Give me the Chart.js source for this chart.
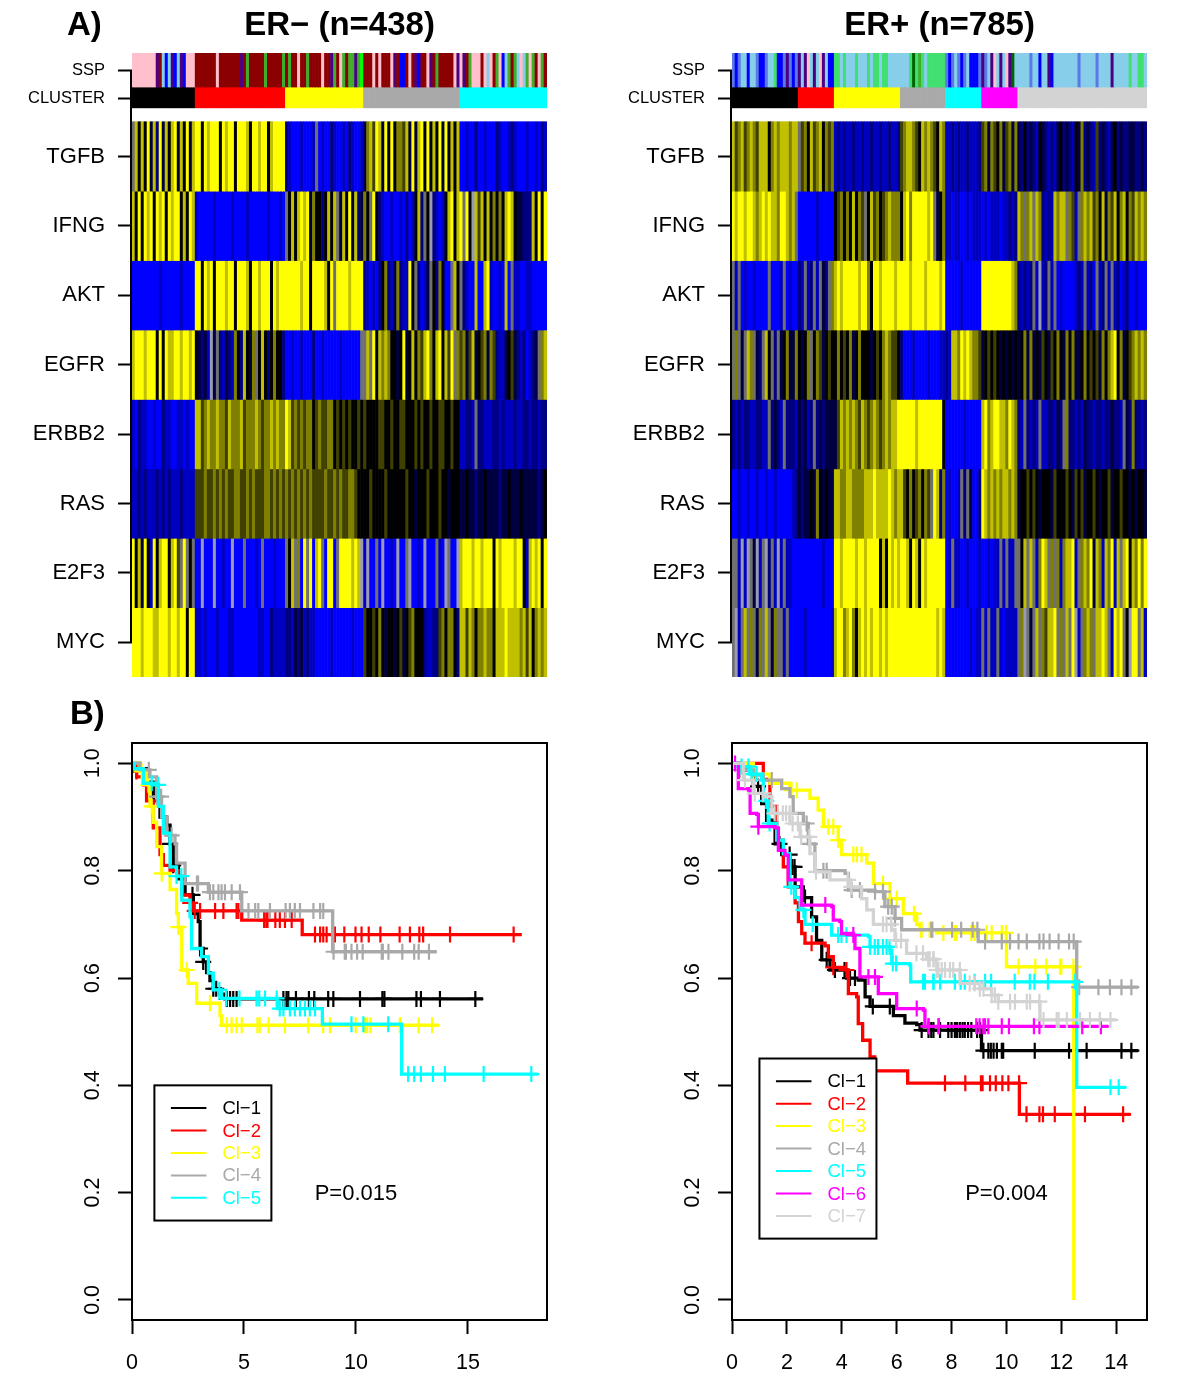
<!DOCTYPE html>
<html>
<head>
<meta charset="utf-8">
<title>ER- / ER+ pathway clusters</title>
<script src="https://cdn.jsdelivr.net/npm/chart.js@4"></script>
<style>
  html, body { margin: 0; background: #fff; }
  body { position: relative; width: 1200px; height: 1400px; overflow: hidden; }
  canvas { position: absolute; }
  .tag { position: absolute; z-index: 2; font: bold 33px/40px "Liberation Sans", sans-serif; }
</style>
</head>
<body>
<div class="tag" style="left:67px;top:4px">A)</div>
<div class="tag" style="left:70px;top:693px">B)</div>
<canvas id="heatNeg" width="600" height="700" style="left:0;top:0"></canvas>
<canvas id="heatPos" width="600" height="700" style="left:600px;top:0"></canvas>
<canvas id="kmNeg" width="600" height="710" style="left:0;top:690px"></canvas>
<canvas id="kmPos" width="600" height="710" style="left:600px;top:690px"></canvas>
<script>
// heatmap columns, left to right: 0 blue .. 4 black .. 8 yellow, g/w mixed stripes
const rowLabels = ['SSP', 'CLUSTER', 'TGFB', 'IFNG', 'AKT', 'EGFR', 'ERBB2', 'RAS', 'E2F3', 'MYC'];
const clusterColors = ['#000000', '#ff0000', '#ffff00', '#a9a9a9', '#00ffff', '#ff00ff', '#d3d3d3'];

const negClusterCols = [21, 30, 26, 32, 29];
const negSsp = 'PPPPP PPPVR SUSVU SVUPP P RRRRR RRPRR RRRRR VRGRR RRRGR RRRRG RGRRP RRGRR RRPRR VGRPG RGGVG H RRRPR PRRRP VRUUR PRVUR RPVRG RRRRR PV PVRGP PPRPS PRGPU SGRGS PSGPG RPGR';
const negTgfb = 'g7474 83728 37478 37483 7 88487 88848 78848 88748 87884 78888 21000 10001 g0100 21001 02100 1 36758 73848 46657 38378 48474 83847 47 00100 20010 00210 01210 00100 1021';
const negIfng = '74848 78487 84878 84748 7 10000 01000 00100 00100 00001 00010 g4747 87836 44247 47g37 48372 3 64g84 21001 00102 01472 g4w21 01 47847 8g84w 75747 46464 78743 3222';
const negAkt = '00000 00001 00000 01000 0 88487 84888 78848 88748 87888 48788 88888 78848 88874 8g888 87888 8 21010 24621 36211 84g20 13g42 64 00g74 g2100 70078 10010 70g11 0011';
const negEgfr = '78887 88848 48778 87887 8 43231 w3g21 32164 27436 g4742 46442 00100 10002 00100 00010 00000 g g7g84 76764 43483 47465 78647 84758 g6 56357 34563 65211 34532 12012 3g67';
const negErbb2 = '10211 00100 21100 11010 0 77567 66766 57666 75666 76566 76766 87565 65664 56556 64545 45445 4 54444 55445 44554 44545 44544 55445 44 11221 g2211 12212 11121 12212 2122';
const negRas = '11212 11121 21211 12111 1 55565 56565 65566 55656 55566 56565 65656 56565 55565 56565 56654 4 44544 44544 44445 44344 45444 54434 44 33433 23343 33323 34333 43333 3234';
const negE2f3 = '84738 41847 88478 5g8g4 g 00w00 0w001 00w00 0g000 10g00 01000 g47g6 08g80 78g08 80g88 88787 w 1w00g 0w001 0w00g w0010 w000g 10wg0 0w 78887 88788 84878 88878 84178 7848';
const negMyc = '88878 88778 88788 78848 8 11010 00100 01100 00000 01100 21111 22132 31211 00000 10000 00100 0 54454 64344 34534 56444 21122 56466 42 77576 46676 64777 87777 67574 6767';

const posClusterCols = [22, 12, 22, 15, 12, 12, 43];
const posSsp = 'CUCSS USSCU UCSSM UUCVC UC VSVPS VSPVS UU MMSMS SSMSS SMSMM SMMSS SS SSSMD MGMSM MMMMM CUCSC UCSUU UC VCSVP SVSPV DS SSSSC SSUSS VUSSS SSSSS CSSSS SCSSS SVSSS SSMSS MMS';
const posTgfb = '75675 67657 77467 67776 77 g5647 56746 56 12121 12112 11211 21121 12 56776 54767 65476 11212 11211 12 56365 46356 36 32423 21432 12134 23214 36232 15232 13423 22332 232';
const posIfng = '87887 88767 87877 68876 7g 00000 01000 00 45646 47465 g4756 45676 66 47868 88887 8g346 11011 00101 11 01011 10112 12 76g67 g7621 21767 7g651 g6767 56473 65746 74657 676';
const posAkt = 'g1g01 00100 00g00 01g01 00 21g12 g1g32 g6 78788 88878 86488 78888 78 88878 88878 88878 00000 10000 00 88888 88888 76 21212 g1w12 g1g01 00001 21g12 0g12g 1g120 12001 000';
const posEgfr = 'g6g3g 76g32 g74g2 g3463 36 4346g 46534 54 46454 63464 44345 46765 54 20001 00001 00011 21776 87876 65 34545 43434 34 34636 34354 35464 36463 34645 45364 67846 34567 676';
const posErbb2 = '21212 21122 11g23 21g22 21 32312 g2323 33 35767 67657 65676 56767 78 88888 78888 88884 00000 01000 00 78678 87768 76 21g21 21g11 22132 g6221 21322 12212 23221 g3262 212';
const posRas = '00100 10010 01001 00000 12 32334 36434 33 77667 76666 77787 77787 67 75464 56465 g8726 01001 g2g30 02 87676 76776 76 34454 54344 43544 45435 45344 54344 53445 44343 443';
const posE2f3 = 'gg1w1 wg3w1 gw2g1 w1g11 00 00000 00010 00 88788 88788 78888 47487 87 88748 74878 88888 01g11 00100 01 00101 1g1g1 1g g47g7 g1687 g6g61 67781 g6768 37617 6817g 78476 868';
const posMyc = 'gw1g7 g6g36 g7g36 gg1g0 00 00100 00000 01 78867 86478 78788 78788 88 88888 88888 88787 00000 00010 11 g1g11 g1011 11 g6wg3 g7g65 778g6 g7g8w 1g676 g7787 g1878 g4w88 g71';

// survival curves, Cl-n: times, survival, censoring times
const negT1 = [0,.36,.65,.95,1.25,1.55,1.7,1.84,2.07,2.37,2.74,2.96,3.04,3.18,3.33,3.48,3.63,3.93,4.15,15.67];
const negS1 = [1,.99,.965,.93,.90,.885,.85,.81,.785,.755,.72,.705,.655,.63,.61,.595,.58,.57,.561,.561];
const negC1 = [1.7,1.84,2.7,3.04,3.18,3.63,3.76,4.23,4.38,4.52,4.67,6.76,6.9,6.98,7.32,7.9,8.14,8.76,8.99,10.18,11.18,11.27,12.7,12.9,13.75,15.33];
const negT2 = [0,.21,.51,.65,.95,1.25,1.4,1.7,2.07,2.22,2.59,2.74,4.9,7.6,17.4];
const negS2 = [.985,.975,.96,.93,.88,.83,.81,.80,.79,.755,.74,.725,.708,.681,.681];
const negC2 = [.2,.5,2.6,2.8,3.04,3.71,4.08,4.67,4.75,5.9,6,6.05,6.4,6.6,6.83,7.13,8.17,8.4,8.54,8.69,9.06,9.48,9.98,10.25,10.57,11.09,11.95,12.41,12.83,13,14.2,17.04];
const negT3 = [0,.36,.65,.8,.95,1.1,1.32,1.7,1.99,2.07,2.22,2.51,2.89,3.48,3.93,4.0,13.7];
const negS3 = [1,.985,.96,.92,.89,.845,.795,.765,.72,.695,.615,.59,.553,.553,.53,.512,.512];
const negC3 = [.43,.73,.88,1.33,2.07,2.44,3.48,4.23,4.45,4.67,4.9,5.6,5.7,6.1,6.83,7.87,8.54,8.84,9.99,10.4,10.5,10.65,11.96,12.0,12.8,13.4];
const negT4 = [0,.36,.8,1.1,1.32,1.55,1.92,1.99,2.37,3.41,4.9,8.96,13.6];
const negS4 = [1,.988,.975,.938,.90,.866,.85,.814,.776,.76,.725,.649,.649];
const negC4 = [.75,1.1,1.3,1.77,2.9,2.95,3.48,3.63,3.86,4,4.15,4.45,4.82,5.2,5.5,5.64,6.16,6.86,7.05,7.27,7.5,8.1,8.4,8.54,9,9.5,9.55,9.8,10.05,10.3,11.15,11.2,11.45,12.07,12.6,12.8,13.26];
const negT5 = [0,.1,.51,.95,1.18,1.4,1.7,1.99,2.22,2.59,2.66,3.11,3.41,3.63,4.0,6.5,8.5,12.04,18.1];
const negS5 = [1,.99,.963,.96,.92,.87,.807,.79,.745,.714,.655,.64,.609,.578,.562,.543,.514,.421,.421];
const negC5 = [.88,1.17,1.99,2.2,3.9,4.2,4.8,5.56,5.68,5.94,6.46,6.6,6.76,7.05,7.27,7.5,7.72,7.94,8.17,9.8,10.33,11.44,12.33,12.6,12.9,13.44,13.97,15.7,17.83];

const posT1 = [0,.29,.78,1.08,1.26,1.57,1.81,2.11,2.3,2.6,2.9,3.08,3.27,3.57,4.18,4.6,4.85,5.03,5.88,6.3,6.73,6.85,9.09,14.8];
const posS1 = [1,.988,.957,.925,.894,.85,.83,.807,.77,.75,.714,.67,.634,.615,.60,.596,.565,.547,.53,.516,.513,.503,.4647,.4647];
const posC1 = [.95,1.73,2.1,2.2,2.28,2.6,2.66,3.45,3.75,4.1,4.3,4.48,5.13,5.75,6.91,7.16,7.26,7.34,7.58,7.88,8,8.12,8.2,8.3,8.4,8.48,8.6,8.72,8.93,9.04,9.16,9.34,9.43,9.53,9.65,9.83,9.88,11.03,12.28,12.92,14.19,14.55];
const posT2 = [0,.78,1.14,1.38,1.63,1.87,2.05,2.3,2.42,2.54,2.66,3.39,3.51,3.69,4.12,4.24,4.54,4.6,4.76,5.03,5.2,6.4,10.47,14.52];
const posS2 = [1,1,.97,.92,.857,.807,.77,.74,.705,.683,.665,.66,.64,.62,.615,.571,.565,.515,.484,.453,.4268,.404,.346,.346];
const posC2 = [2.9,3.69,4.17,7.76,8.5,9.07,9.13,9.4,9.61,9.85,10.07,10.46,10.73,11.2,11.33,11.76,12.86,14.25];
const posT3 = [0,.78,1.38,2.11,2.84,3.14,3.33,3.87,3.99,4.91,5.15,5.76,6.24,6.73,6.85,7.45,10,12.45];
const posS3 = [1,.98,.963,.95,.935,.913,.882,.857,.83,.814,.776,.748,.72,.70,.69,.684,.621,0];
const posC3 = [.78,.9,2.17,2.36,3.51,3.69,3.87,4.42,4.55,4.72,5.5,5.76,6,6.63,6.88,7.23,6.91,7.2,7.26,7.7,8.12,8.18,8.72,8.84,9.28,9.46,9.83,9.98,10.44,11.05,11.45,11.95,12,12.44];
const posT4 = [0,.29,.78,1.14,1.81,2.11,2.23,2.6,2.78,3.02,4.12,4.24,5.21,5.57,5.94,6.18,8.97,12.56,14.8];
const posS4 = [1,.988,.978,.969,.953,.938,.907,.888,.85,.80,.795,.764,.761,.733,.711,.69,.668,.583,.583];
const posC4 = [.29,1.14,1.45,2.72,2.84,3.33,3.45,4.36,4.66,5.21,5.5,5.69,5.82,5.94,7.26,7.3,8.02,8.35,8.77,8.94,9.22,9.83,10.13,10.44,10.74,11.2,11.35,11.57,11.9,12.28,12.45,12.65,13.35,13.77,14.19,14.55];
const posT5 = [0,.29,.66,1.08,1.14,1.32,1.63,1.87,2.11,2.3,2.48,2.66,3.57,3.63,4.97,5.03,5.76,5.82,6.48,6.51,12.56,14.35];
const posS5 = [1,.994,.98,.969,.93,.888,.857,.832,.77,.75,.727,.70,.70,.68,.677,.658,.652,.627,.624,.593,.3964,.3964];
const posC5 = [.35,.6,.71,.89,1.25,1.37,2.16,2.6,2.94,3.87,3.99,4.17,5.03,5.2,5.32,5.5,5.63,5.74,5.86,5.98,7.03,7.34,6.96,7.34,7.58,8.12,8.33,8.48,8.84,9.22,9.44,10.3,10.85,11.02,11.51,12.5,13.79,14.09];
const posT6 = [0,.11,.23,.6,.66,.9,.96,1.57,1.69,1.93,2.05,2.48,2.54,3.63,3.69,3.93,3.99,4.42,4.48,4.66,5.27,5.33,5.94,6.0,6.97,7.03,13.71];
const posS6 = [1,1,.953,.95,.907,.905,.882,.88,.838,.829,.783,.783,.736,.733,.708,.705,.683,.68,.655,.602,.602,.571,.571,.543,.54,.51,.51];
const posC6 = [.11,.96,3.4,4.42,4.97,5.21,6.73,7.16,7.52,7.16,7.54,8.9,9.02,9.16,9.22,9.34,9.83,10.09,11,11.2,12.76,13.44];
const posT7 = [0,.41,.78,1.14,1.45,2.11,2.48,2.84,3.02,3.57,4.3,4.72,4.91,5.15,5.82,5.94,6.36,7.09,7.46,8.31,9.03,9.46,9.7,11.22,14];
const posS7 = [1,.969,.944,.938,.907,.888,.863,.832,.798,.783,.77,.748,.727,.70,.69,.67,.646,.635,.615,.59,.58,.568,.556,.522,.522];
const posC7 = [.47,.83,1.13,1.55,1.67,1.85,1.97,2.1,2.21,2.4,2.52,2.82,3.06,4.23,4.35,5.5,5.63,5.8,5.98,6.16,6.72,6.96,7.15,7.34,7.52,7.2,7.34,7.46,7.64,7.76,7.94,8.06,8.3,8.66,8.84,9.03,9.16,9.46,9.58,9.7,10.13,10.31,10.74,10.86,11.2,11.35,11.83,11.9,12.2,12.68,13.04,13.4,13.79];

const negTimeTicks = [0, 5, 10, 15];
const posTimeTicks = [0, 2, 4, 6, 8, 10, 12, 14];
const survivalTicks = [0, 0.2, 0.4, 0.6, 0.8, 1];

Chart.defaults.font.family = '"Liberation Sans", sans-serif';
Chart.defaults.color = '#000';
Chart.defaults.animation = false;

const heatColors = { 0: '#0000ff', 1: '#0000c0', 2: '#000080', 3: '#000040', 4: '#000000', 5: '#404000', 6: '#808000', 7: '#c0c000', 8: '#ffff00', g: '#707070', w: '#9a9ab4' };
const sspColors = { P: '#ffc0cb', R: '#8b0000', U: '#0000ff', S: '#87ceeb', G: '#3fae2a', H: '#00ff00', V: '#4b0082', M: '#40e070', C: '#5a78e6', D: '#006400' };

function drawHeat(id, title, ssp, clusterCols, rows) {
    const cols = ssp.replace(/ /g, '').split('');
    const clusterRow = clusterCols.flatMap((n, i) => Array(n).fill(clusterColors[i]));
    // rows stack downward from 0 at the top of the scale: ssp, cluster, gap, then one unit per pathway
    const band = (from, to, colors) => ({
        data: cols.map(() => [from, to]),
        backgroundColor: colors,
        barPercentage: 1,
        categoryPercentage: 1,
        grouped: false
    });
    const datasets = [
        band(0, 0.49, cols.map(c => sspColors[c])),
        band(0.49, 0.79, clusterRow)
    ];
    rows.forEach((row, i) => {
        datasets.push(band(0.99 + i, 1.99 + i, row.replace(/ /g, '').split('').map(c => heatColors[c])));
    });
    const tickValues = [0.245, 0.65, 1.49, 2.49, 3.49, 4.49, 5.49, 6.49, 7.49, 8.49];
    new Chart(document.getElementById(id), {
        type: 'bar',
        data: { labels: cols.map((c, i) => i + 1), datasets },
        options: {
            responsive: false,
            layout: { padding: { right: 53 } },
            plugins: {
                legend: { display: false },
                tooltip: { enabled: false },
                title: {
                    display: true, text: title, fullSize: false,
                    font: { size: 33, weight: 'bold' },
                    padding: { top: 6, bottom: 7.4 }
                }
            },
            scales: {
                x: { display: false },
                y: {
                    reverse: true, min: 0, max: 8.99,
                    afterBuildTicks: s => { s.ticks = tickValues.map(value => ({ value })); },
                    afterFit: s => { s.width = 132; },
                    border: { display: false },
                    grid: { drawOnChartArea: false, tickLength: 14, tickWidth: 2, tickColor: '#000' },
                    ticks: {
                        autoSkip: false, padding: 13,
                        callback: (v, i) => rowLabels[i],
                        font: ctx => ({ size: ctx.index < 2 ? 16.5 : 22 })
                    }
                }
            }
        },
        plugins: [{
            id: 'axisLine',
            afterDraw(chart) {
                const c = chart.ctx, y = chart.scales.y, x = chart.chartArea.left;
                c.save();
                c.strokeStyle = '#000';
                c.lineWidth = 2;
                c.beginPath();
                c.moveTo(x - 1, y.getPixelForValue(tickValues[0]));
                c.lineTo(x - 1, y.getPixelForValue(tickValues[9]));
                c.stroke();
                c.restore();
            }
        }]
    });
}

function survivalAt(times, surv, t) {
    let s = surv[0];
    for (let i = 0; i < times.length; i++) if (times[i] <= t) s = surv[i];
    return s;
}

function drawKm(id, xMax, xTicks, curves, pText, legendTop) {
    const datasets = [];
    curves.forEach((cv, i) => {
        const color = clusterColors[i];
        const order = curves.length - i;
        datasets.push({
            data: cv[0].map((t, k) => ({ x: t, y: cv[1][k] })),
            showLine: true, stepped: true, borderColor: color, borderWidth: 3.3,
            pointRadius: 0, order
        });
        datasets.push({
            data: cv[2].map(t => ({ x: t, y: survivalAt(cv[0], cv[1], t) })),
            showLine: false, pointStyle: 'cross', pointRadius: 8,
            pointBorderColor: color, pointBorderWidth: 2.2, pointBackgroundColor: color, order
        });
    });
    new Chart(document.getElementById(id), {
        type: 'scatter',
        data: { datasets },
        options: {
            responsive: false,
            layout: { padding: { top: 53, right: 53 } },
            plugins: { legend: { display: false }, tooltip: { enabled: false } },
            scales: {
                x: {
                    min: 0, max: xMax,
                    afterBuildTicks: s => { s.ticks = xTicks.map(value => ({ value })); },
                    afterFit: s => { s.height = 80; },
                    border: { display: false },
                    grid: { drawOnChartArea: false, tickLength: 14, tickWidth: 2, tickColor: '#000' },
                    ticks: { autoSkip: false, maxRotation: 0, padding: 16, font: { size: 21.5 }, callback: v => v }
                },
                y: {
                    min: -0.0373, max: 1.038,
                    afterBuildTicks: s => { s.ticks = survivalTicks.map(value => ({ value })); },
                    afterFit: s => { s.width = 132; },
                    border: { display: false },
                    grid: { drawOnChartArea: false, tickLength: 14, tickWidth: 2, tickColor: '#000' },
                    ticks: {
                        autoSkip: false, minRotation: 90, maxRotation: 90, padding: 25, labelOffset: -15,
                        font: { size: 21.5 }, callback: v => v.toFixed(1)
                    }
                }
            }
        },
        plugins: [{
            id: 'kmNotes',
            afterDraw(chart) {
                const c = chart.ctx, a = chart.chartArea, sx = chart.scales.x, sy = chart.scales.y;
                c.save();
                c.strokeStyle = '#000';
                c.lineWidth = 2;
                c.strokeRect(a.left, a.top, a.right - a.left, a.bottom - a.top);
                // legend box, anchored like legend(1, top)
                const left = sx.getPixelForValue(1), top = sy.getPixelForValue(legendTop);
                const step = 22.45, n = curves.length;
                c.fillStyle = '#fff';
                c.fillRect(left, top, 117, 45.4 + step * (n - 1));
                c.strokeRect(left, top, 117, 45.4 + step * (n - 1));
                c.font = '18.5px "Liberation Sans", sans-serif';
                c.textBaseline = 'middle';
                c.textAlign = 'left';
                curves.forEach((cv, i) => {
                    const y = top + 22.7 + step * i;
                    c.strokeStyle = clusterColors[i];
                    c.beginPath();
                    c.moveTo(left + 16.5, y);
                    c.lineTo(left + 52, y);
                    c.stroke();
                    c.fillStyle = clusterColors[i];
                    c.fillText('Cl\u2212' + (i + 1), left + 68, y + 1);
                });
                c.fillStyle = '#000';
                c.font = '22px "Liberation Sans", sans-serif';
                c.textAlign = 'center';
                c.fillText(pText, sx.getPixelForValue(10), sy.getPixelForValue(0.2) + 1);
                c.restore();
            }
        }]
    });
}

document.addEventListener('DOMContentLoaded', () => {
    drawHeat('heatNeg', 'ER\u2212 (n=438)', negSsp, negClusterCols,
        [negTgfb, negIfng, negAkt, negEgfr, negErbb2, negRas, negE2f3, negMyc]);
    drawHeat('heatPos', 'ER+ (n=785)', posSsp, posClusterCols,
        [posTgfb, posIfng, posAkt, posEgfr, posErbb2, posRas, posE2f3, posMyc]);
    drawKm('kmNeg', 18.53, negTimeTicks,
        [[negT1, negS1, negC1], [negT2, negS2, negC2], [negT3, negS3, negC3], [negT4, negS4, negC4], [negT5, negS5, negC5]],
        'P=0.015', 0.4);
    drawKm('kmPos', 15.12, posTimeTicks,
        [[posT1, posS1, posC1], [posT2, posS2, posC2], [posT3, posS3, posC3], [posT4, posS4, posC4], [posT5, posS5, posC5], [posT6, posS6, posC6], [posT7, posS7, posC7]],
        'P=0.004', 0.45);
});
</script>
</body>
</html>
